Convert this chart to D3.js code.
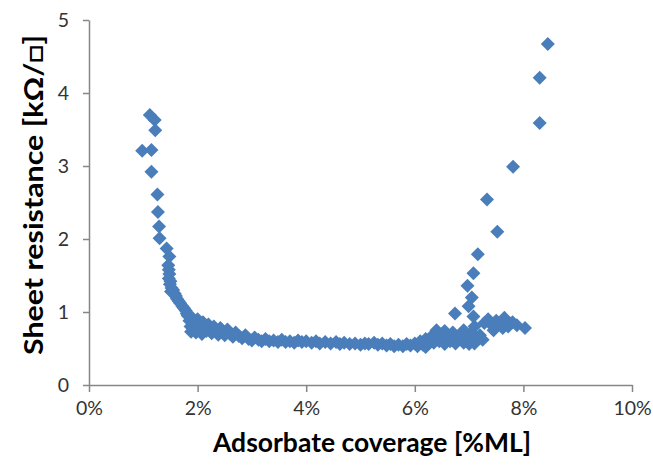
<!DOCTYPE html>
<html><head><meta charset="utf-8">
<script src="https://cdn.jsdelivr.net/npm/d3@7"></script>
<style>body{margin:0;background:#fff}svg{display:block}</style>
</head><body>
<script>
// Adsorbate coverage [%] values, grouped by region of the curve
const coverage = [
  0.98,1.12,1.15,1.15,1.21,1.22,1.26,1.27,1.29,1.30,1.43,1.48,1.46,
  1.47,1.48,1.47,1.50,1.49,1.52,1.51,1.55,1.58,1.60,1.62,1.65,1.68,1.72,1.75,1.78,1.80,
  1.82,1.85,1.87,1.88,1.90,1.93,1.95,1.97,2.00,2.02,2.05,2.08,2.10,2.13,2.16,2.20,2.23,2.26,2.30,2.34,2.38,2.42,2.46,2.50,2.55,2.60,2.65,2.70,
  2.76,2.82,2.88,2.94,3.00,3.05,3.12,3.18,3.25,3.32,3.40,3.48,3.55,3.62,3.70,3.78,3.85,3.92,4.00,4.10,4.18,4.25,4.35,4.45,4.55,4.62,4.70,4.80,4.90,5.00,5.08,5.15,5.25,5.32,5.40,5.48,5.55,5.62,5.70,5.78,5.85,5.92,
  6.00,6.05,6.10,6.15,6.20,6.25,6.30,6.35,6.40,6.45,6.50,6.55,6.60,6.65,6.70,6.75,6.80,6.85,6.90,6.95,7.00,7.05,7.10,7.15,6.20,6.40,6.55,6.90,7.00,7.10,
  7.20,7.28,7.35,7.42,7.50,7.58,7.65,7.72,7.80,7.88,8.03,7.25,7.45,7.62,
  6.74,7.08,6.99,7.05,6.97,7.08,7.16,7.52,7.33,7.81,8.30,8.30,8.45
];
// Sheet resistance [kΩ/□], same order
const resistance = [
  3.21,3.70,3.22,2.92,3.63,3.49,2.61,2.37,2.17,2.01,1.87,1.76,1.64,
  1.58,1.52,1.46,1.42,1.38,1.33,1.28,1.30,1.25,1.22,1.18,1.15,1.12,1.08,1.05,1.02,0.98,
  0.95,0.88,0.80,0.73,0.92,0.85,0.78,0.72,0.90,0.83,0.76,0.70,0.86,0.80,0.74,0.83,0.77,0.71,0.80,0.74,0.69,0.78,0.72,0.68,0.76,0.70,0.66,0.72,
  0.67,0.64,0.68,0.63,0.61,0.65,0.62,0.60,0.63,0.60,0.61,0.59,0.62,0.59,0.60,0.58,0.61,0.59,0.60,0.58,0.60,0.57,0.59,0.57,0.59,0.56,0.58,0.56,0.57,0.55,0.57,0.56,0.58,0.55,0.57,0.54,0.56,0.53,0.55,0.53,0.56,0.54,
  0.57,0.53,0.60,0.55,0.63,0.56,0.66,0.58,0.68,0.60,0.70,0.56,0.66,0.60,0.72,0.57,0.64,0.70,0.58,0.66,0.62,0.72,0.57,0.63,0.52,0.75,0.74,0.75,0.56,0.80,
  0.68,0.85,0.90,0.82,0.88,0.84,0.92,0.80,0.86,0.82,0.78,0.62,0.75,0.78,
  0.98,0.94,1.08,1.20,1.36,1.53,1.79,2.10,2.54,2.99,3.59,4.21,4.67
];
const xTicks = [0,2,4,6,8,10];
const yTicks = [0,1,2,3,4,5];
const xTitle = "Adsorbate coverage [%ML]";
const yTitle = "Sheet resistance [kΩ/□]";

const W = 653, H = 469;
const mLeft = 89, mRight = 632, mTop = 20, mBottom = 385;
const svg = d3.select("body").append("svg").attr("width", W).attr("height", H);

const x = d3.scaleLinear().domain([0,10]).range([mLeft,mRight]);
const y = d3.scaleLinear().domain([0,5]).range([mBottom,mTop]);

const axisColor = "#868686";
const font = "Lato, 'Open Sans', sans-serif";

const gx = svg.append("g").attr("transform", `translate(0,${mBottom})`)
  .call(d3.axisBottom(x).tickValues(xTicks).tickSizeInner(7).tickSizeOuter(0).tickPadding(9).tickFormat(d => d + "%"));
const gy = svg.append("g").attr("transform", `translate(${mLeft},0)`)
  .call(d3.axisLeft(y).tickValues(yTicks).tickSizeInner(6).tickSizeOuter(0).tickPadding(14).tickFormat(d3.format("d")));
[gx, gy].forEach(g => {
  g.select(".domain").attr("stroke", axisColor).attr("stroke-width", 1.5);
  g.selectAll(".tick line").attr("stroke", axisColor).attr("stroke-width", 1.5);
  g.selectAll(".tick text").attr("fill", "#333").style("font-family", font).style("font-size", "19.5px");
});

const pts = coverage.map((c, i) => [c, resistance[i]]);
const r = 7;
svg.append("g").selectAll("path").data(pts).join("path")
  .attr("transform", d => `translate(${x(d[0])},${y(d[1])})`)
  .attr("d", `M0,${-r}L${r},0L0,${r}L${-r},0Z`)
  .attr("fill", "#4a7ebb");

svg.append("text").attr("x", 372).attr("y", 452).attr("text-anchor", "middle")
  .style("font-family", font).style("font-weight", "bold").style("font-size", "26px").attr("fill", "#000")
  .attr("textLength", 318).attr("lengthAdjust", "spacingAndGlyphs")
  .text(xTitle);
svg.append("text").attr("transform", `translate(43,${195}) rotate(-90)`).attr("text-anchor", "middle")
  .style("font-family", font).style("font-weight", "bold").style("font-size", "26px").attr("fill", "#000")
  .attr("textLength", 320).attr("lengthAdjust", "spacingAndGlyphs")
  .text(yTitle);
</script>
</body></html>
